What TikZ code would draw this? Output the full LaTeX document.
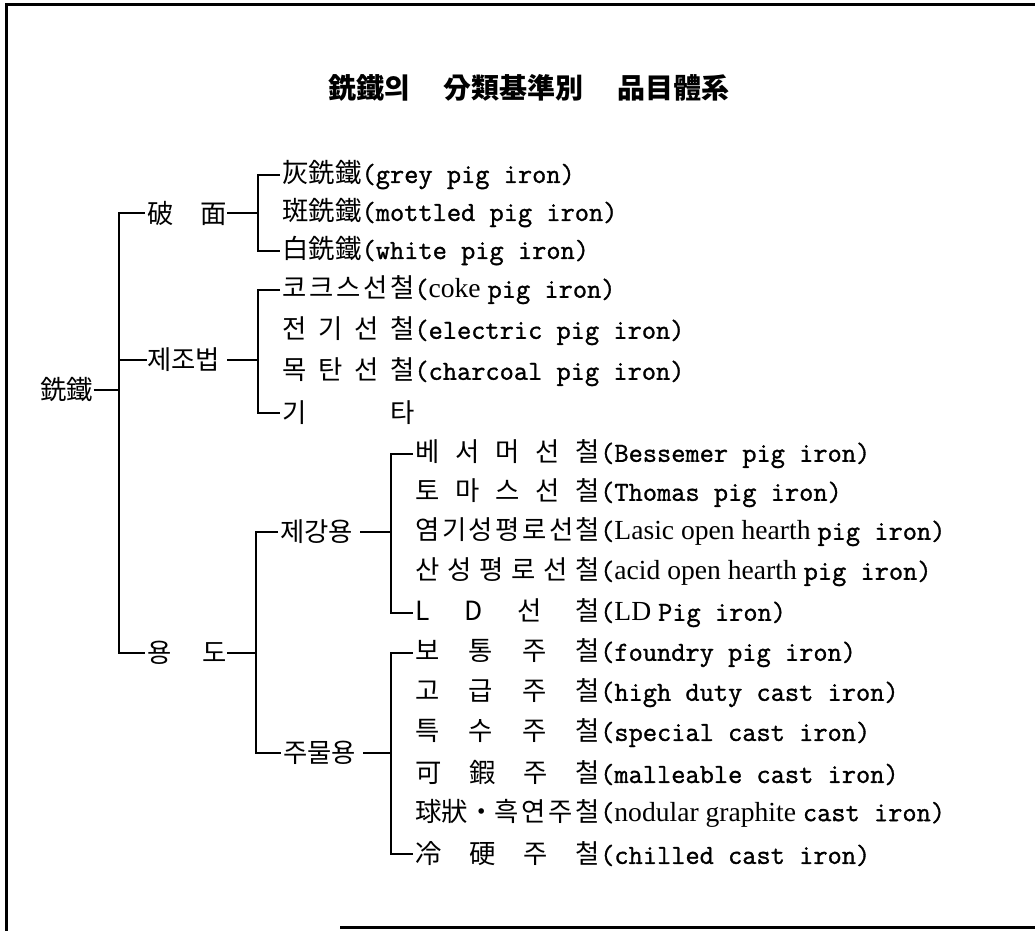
\documentclass[tikz,border=0pt]{standalone}
\usepackage{fontspec}
\setmonofont{Latin Modern Mono}[FakeBold=1.2]
\newfontfamily\kr{Noto Sans CJK KR}
\newfontfamily\prop{Liberation Serif}
% korean column spread to a fixed width, then the english name
\newcommand\kw[2]{{\kr\makebox[#1em][s]{#2}}}
\newcommand\entry[3]{\kw{#1}{#2}{\ttfamily\fontsize{13.8}{16}\selectfont(#3)}}
\begin{document}
\begin{tikzpicture}[x=0.5pt, y=-0.5pt,
  lbl/.style={anchor=west, inner sep=0pt, font=\fontsize{13.2}{16}\selectfont},
  link/.style={line width=1pt}]
\useasboundingbox (0,0) rectangle (1035,931);
\draw [line width=1.5pt] (1035,5) -- (6,5) -- (6,931);
\draw [line width=1.5pt] (340,927) -- (1035,927);

\node [font=\fontsize{14}{16}\selectfont\kr\bfseries] (title) at (529,88)
  {銑鐵의\hspace{17pt}分類基準別\hspace{17pt}品目體系};

\node [lbl] (root) at (40,390) {\kw{2}{銑鐵}};
\node [lbl] (fracture) at (147,213) {\kw{3}{破 面}};
\node [lbl] (method) at (147,360) {\kw{3}{제조법}};
\node [lbl] (use) at (147,653) {\kw{3}{용 도}};
\node [lbl] (steel) at (280,532) {\kw{3}{제강용}};
\node [lbl] (cast) at (283,753) {\kw{3}{주물용}};

\node [lbl] (grey) at (282,175) {\entry{3}{灰銑鐵}{grey pig iron}};
\node [lbl] (mottled) at (282,213) {\entry{3}{斑銑鐵}{mottled pig iron}};
\node [lbl] (white) at (282,251) {\entry{3}{白銑鐵}{white pig iron}};

\node [lbl] (coke) at (282,290) {\entry{5}{코\hfil 크\hfil 스\hfil 선\hfil 철}{{\prop coke }pig iron}};
\node [lbl] (electric) at (282,331) {\entry{5}{전 기 선 철}{electric pig iron}};
\node [lbl] (charcoal) at (282,372) {\entry{5}{목 탄 선 철}{charcoal pig iron}};
\node [lbl] (other) at (282,413) {\kw{5}{기 타}};

\node [lbl] (bessemer) at (415,454) {\entry{7}{베 서 머 선 철}{Bessemer pig iron}};
\node [lbl] (thomas) at (415,493) {\entry{7}{토 마 스 선 철}{Thomas pig iron}};
\node [lbl] (basic) at (415,532) {\entry{7}{염\hfil 기\hfil 성\hfil 평\hfil 로\hfil 선\hfil 철}{{\prop Lasic open hearth }pig iron}};
\node [lbl] (acid) at (415,572) {\entry{7}{산 성 평 로 선 철}{{\prop acid open hearth }pig iron}};
\node [lbl] (ld) at (415,613) {\entry{7}{L D 선 철}{{\prop LD }Pig iron}};

\node [lbl] (foundry) at (415,653) {\entry{7}{보 통 주 철}{foundry pig iron}};
\node [lbl] (highduty) at (415,693) {\entry{7}{고 급 주 철}{high duty cast iron}};
\node [lbl] (special) at (415,733) {\entry{7}{특 수 주 철}{special cast iron}};
\node [lbl] (malleable) at (415,773) {\entry{7}{可 鍜 주 철}{malleable cast iron}};
\node [lbl] (nodular) at (415,813) {\entry{7}{球狀・흑\hfil 연\hfil 주\hfil 철}{{\prop nodular graphite }cast iron}};
\node [lbl] (chilled) at (415,854) {\entry{7}{冷 硬 주 철}{chilled cast iron}};

% brackets
\draw [link] ([xshift=-1pt]fracture.west) -- ++(-26,0) coordinate (t0) |- ([xshift=-1pt]use.west);
\draw [link] (root.east) -- (root.east -| t0);
\draw [link] (method.west) -- (method.west -| t0);

\draw [link] ([xshift=-1pt]grey.west) -- ++(-22,0) coordinate (t1) |- ([xshift=-1pt]white.west);
\draw [link] (fracture.east) -- (fracture.east -| t1);

\draw [link] ([xshift=-1pt]coke.west) -- ++(-22,0) coordinate (t2) |- ([xshift=-1pt]other.west);
\draw [link] (method.east) -- (method.east -| t2);

\draw [link] ([xshift=-1pt]steel.west) -- ++(-22,0) coordinate (t3) |- ([xshift=-1pt]cast.west);
\draw [link] (use.east) -- (use.east -| t3);

\draw [link] ([xshift=-1pt]bessemer.west) -- ++(-22,0) coordinate (t4) |- ([xshift=-1pt]ld.west);
\draw [link] (steel.east) -- (steel.east -| t4);

\draw [link] ([xshift=-1pt]foundry.west) -- ++(-22,0) coordinate (t5) |- ([xshift=-1pt]chilled.west);
\draw [link] (cast.east) -- (cast.east -| t5);
\end{tikzpicture}
\end{document}
